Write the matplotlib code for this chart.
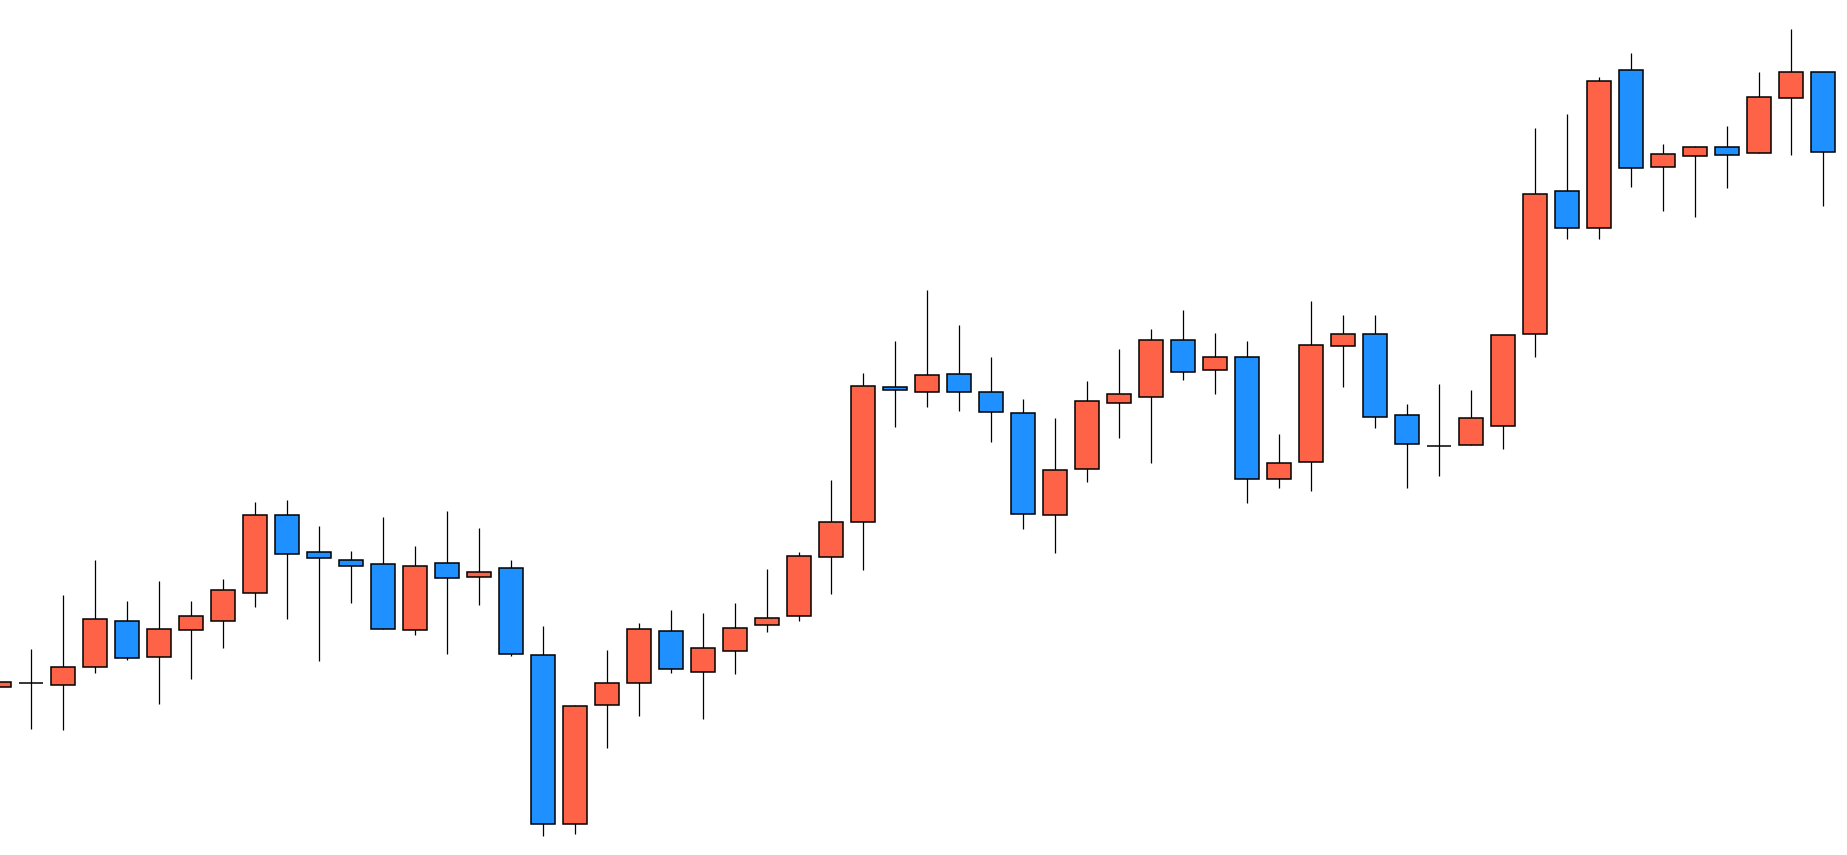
import numpy as np
import matplotlib
matplotlib.use('Agg')
import matplotlib.pyplot as plt

# OHLC values (arbitrary price units)
opens = [116.77, 117.23, 116.97, 118.77, 123.37, 119.77, 122.47, 123.37, 126.17, 133.97,
         130.27, 129.47, 129.07, 122.47, 129.17, 127.77, 128.67, 119.97, 103.10, 114.97,
         117.17, 122.37, 118.27, 120.37, 122.97, 123.87, 129.77, 133.27, 146.77, 146.27,
         148.07, 146.27, 144.17, 133.97, 138.57, 145.17, 145.77, 151.47, 148.47, 149.77,
         137.57, 139.27, 150.87, 152.07, 143.97, 140.93, 140.97, 142.87, 152.07, 166.37,
         162.67, 178.47, 168.77, 169.87, 170.77, 170.17, 175.67, 178.27]
highs = [117.27, 120.60, 126.00, 129.50, 125.40, 127.40, 125.40, 127.60, 135.30, 135.50,
         132.90, 130.40, 133.80, 130.90, 134.40, 132.70, 129.50, 122.90, 115.00, 120.50,
         123.20, 124.50, 124.20, 125.20, 128.60, 130.30, 137.50, 148.20, 151.40, 156.50,
         153.00, 149.80, 145.60, 143.70, 147.40, 150.60, 152.60, 154.50, 152.20, 151.40,
         142.10, 155.40, 154.00, 154.00, 145.10, 147.10, 146.50, 151.97, 172.70, 174.10,
         177.77, 180.20, 171.10, 170.90, 172.90, 178.30, 182.60, 178.27]
lows = [116.77, 112.63, 112.53, 118.23, 119.53, 115.13, 117.63, 120.73, 124.83, 123.63,
        119.43, 125.23, 122.57, 122.03, 120.13, 125.03, 119.93, 101.93, 102.07, 110.73,
        113.93, 118.23, 113.63, 118.13, 122.33, 123.43, 126.13, 128.53, 142.83, 144.83,
        144.43, 141.33, 132.63, 130.23, 137.33, 141.73, 139.23, 147.53, 146.13, 135.23,
        136.73, 136.43, 146.83, 142.73, 136.73, 137.93, 140.97, 140.63, 149.83, 161.63,
        161.63, 166.83, 164.43, 163.83, 166.73, 170.17, 170.03, 164.93]
closes = [117.27, 117.23, 118.77, 123.57, 119.67, 122.57, 123.87, 126.47, 133.97, 130.07,
          129.67, 128.87, 122.57, 128.87, 127.67, 128.27, 120.07, 103.10, 114.87, 117.17,
          122.57, 118.57, 120.67, 122.67, 123.67, 129.87, 133.27, 146.87, 146.47, 147.97,
          146.27, 144.27, 134.07, 138.47, 145.37, 146.07, 151.47, 148.27, 149.77, 137.57,
          139.17, 150.97, 152.07, 143.77, 141.07, 140.93, 143.67, 151.97, 166.07, 162.67,
          177.37, 168.67, 170.07, 170.77, 169.97, 175.77, 178.27, 170.27]

opens = np.array(opens)
closes = np.array(closes)
x = np.arange(len(opens))

up_color = '#FF6347'    # rising candles
down_color = '#1E90FF'  # falling candles
colors = [up_color if c >= o else down_color for o, c in zip(opens, closes)]

fig = plt.figure(figsize=(18.47, 8.55), dpi=100)
ax = fig.add_axes([0, 0, 1, 1])

# wicks first, bodies on top
ax.vlines(x, lows, highs, color='black', linewidth=0.9, zorder=1)
ax.bar(x, np.abs(closes - opens), bottom=np.minimum(opens, closes), width=0.75,
       color=colors, edgecolor='black', linewidth=1.1, zorder=2)

ax.set_xlim(0.02, 57.74)
ax.set_ylim(100, 185.5)
ax.axis('off')

plt.savefig('out.png', dpi=100, facecolor='white')
